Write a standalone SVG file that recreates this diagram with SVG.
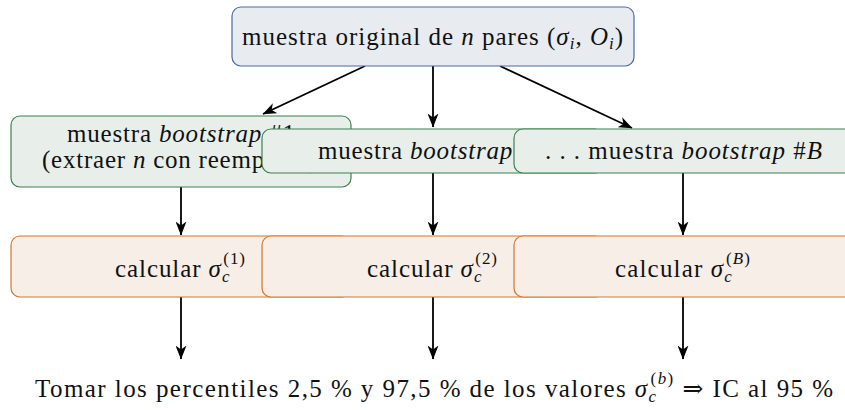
<svg xmlns="http://www.w3.org/2000/svg" width="845" height="410" viewBox="0 0 845 410">
  <defs>
    <marker id="arrow" viewBox="0 0 14 11" refX="13.5" refY="5.5" markerWidth="14" markerHeight="11" markerUnits="userSpaceOnUse" orient="auto">
      <path d="M0,0 L14,5.5 L0,11 L4,5.5 Z" fill="#000"/>
    </marker>
  </defs>
  <style>
    text { font-family: "Liberation Serif", "DejaVu Serif", serif; font-size: 25px; fill: #111; }
    .it { font-style: italic; }
    .sub { font-size: 17px; }
    .orig { fill: #e8ecf1; stroke: #4a6a9c; stroke-width: 1.2; }
    .boot { fill: #e8efea; stroke: #3f8050; stroke-width: 1.2; }
    .calc { fill: #f7eee7; stroke: #d4772e; stroke-width: 1.2; }
    .edge { stroke: #000; stroke-width: 1.8; fill: none; marker-end: url(#arrow); }
  </style>
  <rect width="845" height="410" fill="#ffffff"/>

  <g id="connectors">
    <line class="edge" x1="365" y1="66" x2="263" y2="114"/>
    <line class="edge" x1="433" y1="66" x2="433" y2="127"/>
    <line class="edge" x1="500" y1="66" x2="632" y2="128"/>
    <line class="edge" x1="181" y1="187" x2="181" y2="235"/>
    <line class="edge" x1="433" y1="173" x2="433" y2="235"/>
    <line class="edge" x1="683" y1="173" x2="683" y2="235"/>
    <line class="edge" x1="181" y1="297" x2="181" y2="359"/>
    <line class="edge" x1="433" y1="297" x2="433" y2="359"/>
    <line class="edge" x1="683" y1="297" x2="683" y2="359"/>
  </g>

  <g id="original">
    <rect class="orig" x="232" y="7" width="402" height="59" rx="9"/>
    <text x="432.5" y="45" text-anchor="middle" textLength="381" lengthAdjust="spacing">muestra original de <tspan class="it">n</tspan> pares (<tspan class="it">σ</tspan><tspan class="it sub" dy="4">i</tspan><tspan dy="-4">, </tspan><tspan class="it">O</tspan><tspan class="it sub" dy="4">i</tspan><tspan dy="-4">)</tspan></text>
  </g>

  <g id="boot1">
    <rect class="boot" x="11" y="116" width="340" height="71" rx="9"/>
    <text x="181" y="142" text-anchor="middle" textLength="228" lengthAdjust="spacing">muestra <tspan class="it">bootstrap</tspan> #1</text>
    <text x="180" y="168" text-anchor="middle" textLength="276" lengthAdjust="spacing">(extraer <tspan class="it">n</tspan> con reemplazo)</text>
  </g>

  <g id="boot2">
    <rect class="boot" x="262" y="129" width="342" height="44" rx="9"/>
    <text x="432" y="159" text-anchor="middle" textLength="228" lengthAdjust="spacing">muestra <tspan class="it">bootstrap</tspan> #2</text>
  </g>

  <g id="bootB">
    <rect class="boot" x="514" y="129" width="340" height="44" rx="9"/>
    <text x="683.5" y="159" text-anchor="middle" textLength="277" lengthAdjust="spacing">. . .  muestra <tspan class="it">bootstrap</tspan> #<tspan class="it">B</tspan></text>
  </g>

  <g id="calc1">
    <rect class="calc" x="11" y="236" width="340" height="61" rx="9"/>
    <text x="180" y="277" text-anchor="middle" textLength="130" lengthAdjust="spacing">calcular <tspan class="it">σ</tspan><tspan class="it sub" dy="5">c</tspan><tspan class="sub" dx="-7" dy="-18">(1)</tspan></text>
  </g>

  <g id="calc2">
    <rect class="calc" x="262" y="236" width="342" height="61" rx="9"/>
    <text x="432" y="277" text-anchor="middle" textLength="130" lengthAdjust="spacing">calcular <tspan class="it">σ</tspan><tspan class="it sub" dy="5">c</tspan><tspan class="sub" dx="-7" dy="-18">(2)</tspan></text>
  </g>

  <g id="calcB">
    <rect class="calc" x="514" y="236" width="340" height="61" rx="9"/>
    <text x="682.5" y="277" text-anchor="middle" textLength="135" lengthAdjust="spacing">calcular <tspan class="it">σ</tspan><tspan class="it sub" dy="5">c</tspan><tspan class="sub" dx="-7" dy="-18">(<tspan class="it">B</tspan>)</tspan></text>
  </g>

  <g id="conclusion">
    <text x="434" y="397" text-anchor="middle" textLength="798" lengthAdjust="spacing">Tomar los percentiles 2,5 % y 97,5 % de los valores <tspan class="it">σ</tspan><tspan class="it sub" dy="5">c</tspan><tspan class="sub" dx="-7" dy="-18">(<tspan class="it">b</tspan>)</tspan><tspan dy="13"> ⇒ IC al 95 %</tspan></text>
  </g>
</svg>
